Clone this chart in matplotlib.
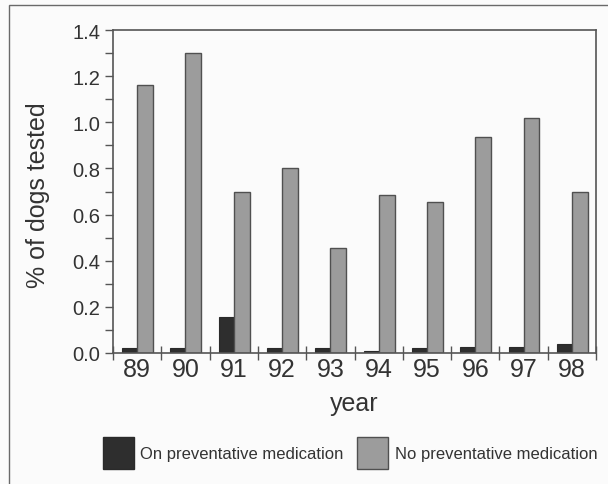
import matplotlib
matplotlib.use("Agg")
import matplotlib.pyplot as plt
import numpy as np
from matplotlib.patches import Rectangle, Patch
from matplotlib.ticker import MultipleLocator, FixedLocator

years = ["89", "90", "91", "92", "93", "94", "95", "96", "97", "98"]
on_med = [0.02, 0.02, 0.156, 0.02, 0.02, 0.01, 0.02, 0.027, 0.027, 0.038]
no_med = [1.16, 1.30, 0.70, 0.80, 0.455, 0.685, 0.655, 0.935, 1.02, 0.70]
y_ticks = [0.0, 0.2, 0.4, 0.6, 0.8, 1.0, 1.2, 1.4]
legend_labels = ["On preventative medication", "No preventative medication"]

plt.rcParams['font.family'] = ['Liberation Sans', 'DejaVu Sans']

fig = plt.figure(figsize=(6.08, 4.85), dpi=100)
fig.patch.set_facecolor('#fbfbfb')

# outer frame (cut off at right and bottom)
fig.add_artist(Rectangle((9/608, -0.1), 1.2, 1 - 6/485 + 0.1, transform=fig.transFigure,
                         fill=False, edgecolor='#6a6a6a', linewidth=1.0))

ax = fig.add_axes([113/608, 1 - 354/485, (596 - 113)/608, (354 - 31)/485])
ax.set_facecolor('#fbfbfb')

x = np.arange(len(years))
ax.bar(x - 0.155, on_med, width=0.31, color='#2e2e2e', edgecolor='#2a2a2a', linewidth=0.8)
ax.bar(x + 0.165, no_med, width=0.33, color='#9c9c9c', edgecolor='#505050', linewidth=1.0)

ax.set_xlim(-0.5, len(years) - 0.5)
ax.set_ylim(0, 1.4)

ax.set_xticks(x)
ax.set_xticklabels(years, fontsize=18, color='#333333')
ax.xaxis.set_minor_locator(FixedLocator(np.arange(-0.5, len(years), 1.0)))
ax.tick_params(axis='x', which='major', length=0, pad=3)
ax.tick_params(axis='x', which='minor', direction='inout', length=10, width=1.0, color='#555555')

ax.set_yticks(y_ticks)
ax.set_yticklabels([f"{v:.1f}" for v in y_ticks], fontsize=14.5, color='#333333')
ax.yaxis.set_minor_locator(MultipleLocator(0.1))
ax.tick_params(axis='y', which='major', direction='out', length=6, width=1.0, color='#555555', pad=3)
ax.tick_params(axis='y', which='minor', direction='out', length=6, width=1.0, color='#555555')

for s in ax.spines.values():
    s.set_color('#555555')
    s.set_linewidth(1.2)

ax.set_xlabel("year", fontsize=18, color='#333333')
ax.set_ylabel("% of dogs tested", fontsize=18, color='#333333')
ax.xaxis.set_label_coords(0.5, (354 - 392) / 323)
ax.yaxis.set_label_coords((50 - 113) / 483, (354 - 195) / 323)

handles = [Patch(facecolor='#2e2e2e', edgecolor='#2a2a2a'),
           Patch(facecolor='#9c9c9c', edgecolor='#505050', linewidth=1.0)]
fig.legend(handles, legend_labels, loc='center', bbox_to_anchor=(350/608, 1 - 454/485),
           ncol=2, frameon=False, fontsize=12, handlelength=1.86, handleheight=2.5,
           handletextpad=0.42, columnspacing=0.78, labelcolor='#333333', borderpad=0)

fig.savefig("out.png", dpi=100, facecolor=fig.get_facecolor())
